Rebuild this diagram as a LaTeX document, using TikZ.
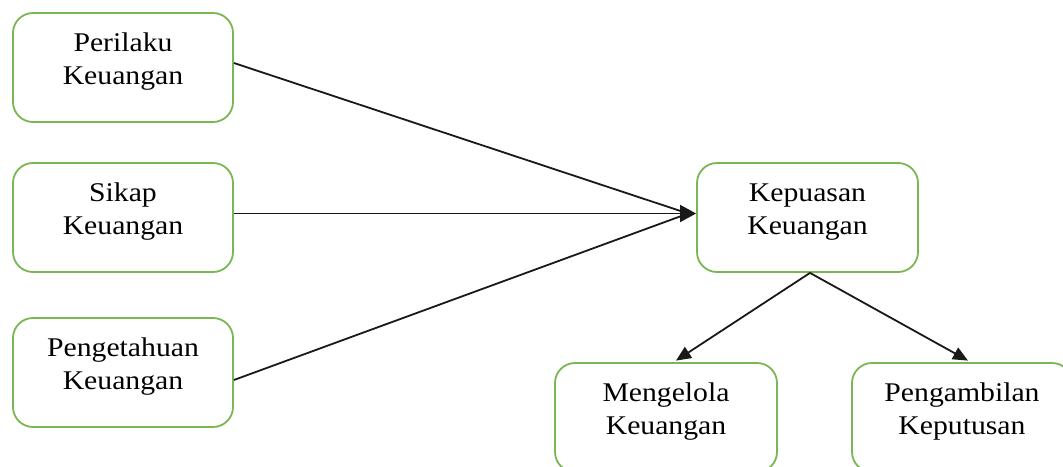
\documentclass[tikz,border=0pt]{standalone}
\usepackage{fontspec}
\setmainfont{Liberation Serif}[FakeStretch=1.1]
\usetikzlibrary{arrows.meta}
\definecolor{boxgreen}{RGB}{122,182,82}
\tikzset{
  box/.style={draw=boxgreen, line width=1.8pt, rounded corners=20pt,
    minimum width=220pt, minimum height=109pt, inner sep=0pt, fill=white},
  boxtext/.style={font=\fontsize{27}{33}\selectfont, align=center, yshift=5.5pt, inner sep=0pt},
  conn/.style={draw=black!90, line width=1.8pt},
  arr/.style={conn, -{Triangle[length=15pt,width=13pt]}},
  bigarr/.style={conn, -{Triangle[length=16pt,width=17pt]}}
}
\begin{document}
\begin{tikzpicture}[x=1pt,y=-1pt]
\useasboundingbox (0,0) rectangle (1063,466);
\node[box, label={[boxtext]center:Perilaku\\Keuangan}] (P) at (123,67.5) {};
\node[box, label={[boxtext]center:Sikap\\Keuangan}] (S) at (123,217.5) {};
\node[box, label={[boxtext]center:Pengetahuan\\Keuangan}] (G) at (123,372.5) {};
\node[box, minimum width=221pt, label={[boxtext]center:Kepuasan\\Keuangan}] (K) at (807.5,217.5) {};
\node[box, minimum width=222pt, label={[boxtext]center:Mengelola\\Keuangan}] (M) at (666,417.5) {};
\node[box, label={[boxtext]center:Pengambilan\\Keputusan}] (A) at (962,417.5) {};
\draw[conn] ([yshift=4.5pt]P.east) -- ([xshift=-8pt,yshift=4pt]K.west);
\draw[conn] ([yshift=-7.5pt]G.east) -- ([xshift=-8pt,yshift=4pt]K.west);
\draw[bigarr] ([yshift=4pt]S.east) -- ([yshift=4pt]K.west);
\draw[arr] ([xshift=2.5pt]K.south) -- ([xshift=10pt,yshift=1.5pt]M.north);
\draw[arr] ([xshift=2.5pt]K.south) -- ([xshift=6pt,yshift=1.5pt]A.north);
\end{tikzpicture}
\end{document}
